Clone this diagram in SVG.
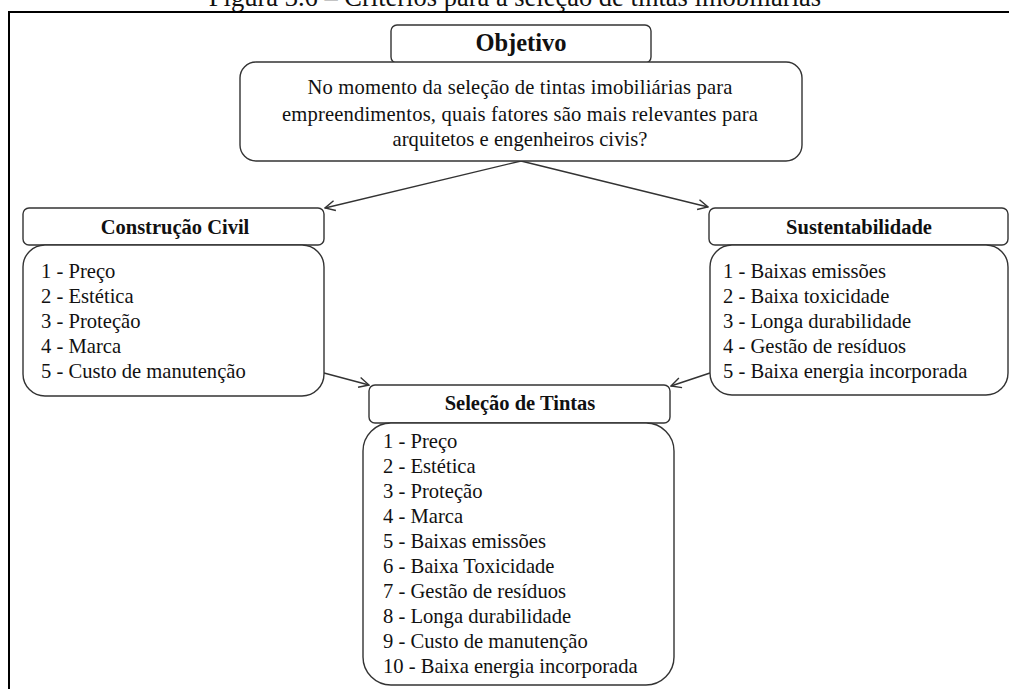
<svg xmlns="http://www.w3.org/2000/svg" width="1009" height="689" viewBox="0 0 1009 689">
<defs>
<style>
.box{fill:#fff;stroke:#333;stroke-width:1.4}
.t{font-family:"Liberation Serif","Times New Roman",serif;font-size:20.6px;fill:#111}
.h{font-family:"Liberation Serif","Times New Roman",serif;font-size:20.5px;font-weight:bold;fill:#111;text-anchor:middle}
.c{text-anchor:middle}
.conn{fill:none;stroke:#333;stroke-width:1.4}
</style>
<marker id="arr" viewBox="0 0 12 12" refX="11" refY="6" markerWidth="12" markerHeight="12" markerUnits="userSpaceOnUse" orient="auto">
<path d="M1,1 L11,6 L1,11" fill="none" stroke="#333" stroke-width="1.4"/>
</marker>
</defs>
<rect width="1009" height="689" fill="#fff"/>
<text class="t c" x="515" y="6" style="font-size:26.5px">Figura 3.6 – Critérios para a seleção de tintas imobiliárias</text>
<path d="M9,689 V12 H1009" fill="none" stroke="#000" stroke-width="2"/>

<g id="connectors">
<line class="conn" x1="521" y1="161" x2="325" y2="208" marker-end="url(#arr)"/>
<line class="conn" x1="521" y1="161" x2="708" y2="207" marker-end="url(#arr)"/>
<line class="conn" x1="324" y1="373" x2="369" y2="385" marker-end="url(#arr)"/>
<line class="conn" x1="710" y1="373" x2="671" y2="386" marker-end="url(#arr)"/>
</g>

<g id="objetivo">
<rect class="box" x="391" y="25" width="260" height="38" rx="6"/>
<text class="h" x="521" y="51" style="font-size:24.5px">Objetivo</text>
</g>

<g id="pergunta">
<rect class="box" x="240" y="62" width="562" height="99" rx="16"/>
<text class="t c" x="520" y="94" textLength="425" lengthAdjust="spacing">No momento  da seleção  de tintas imobiliárias  para</text>
<text class="t c" x="520" y="121" textLength="476" lengthAdjust="spacing">empreendimentos,  quais fatores são mais relevantes para</text>
<text class="t c" x="520" y="146" textLength="255" lengthAdjust="spacing">arquitetos e engenheiros  civis?</text>
</g>

<g id="construcao">
<rect class="box" x="23" y="208" width="301" height="37" rx="6"/>
<text class="h" x="175" y="234">Construção  Civil</text>
<rect class="box" x="23" y="245" width="301" height="151" rx="22"/>
<text class="t" x="41" y="278">1 - Preço</text>
<text class="t" x="41" y="303">2 - Estética</text>
<text class="t" x="41" y="328">3 - Proteção</text>
<text class="t" x="41" y="353">4 - Marca</text>
<text class="t" x="41" y="378">5 - Custo de manutenção</text>
</g>

<g id="sustentabilidade">
<rect class="box" x="709" y="208" width="299" height="37" rx="6"/>
<text class="h" x="859" y="234">Sustentabilidade</text>
<rect class="box" x="710" y="245" width="298" height="150" rx="22"/>
<text class="t" x="723" y="278">1 - Baixas  emissões</text>
<text class="t" x="723" y="303">2 - Baixa toxicidade</text>
<text class="t" x="723" y="328">3 - Longa durabilidade</text>
<text class="t" x="723" y="353">4 - Gestão de resíduos</text>
<text class="t" x="723" y="378">5 - Baixa energia  incorporada</text>
</g>

<g id="selecao">
<rect class="box" x="369" y="385" width="301" height="38" rx="6"/>
<text class="h" x="520" y="410">Seleção  de Tintas</text>
<rect class="box" x="363" y="423" width="311" height="262" rx="28"/>
<text class="t" x="383" y="448">1 - Preço</text>
<text class="t" x="383" y="473">2 - Estética</text>
<text class="t" x="383" y="498">3 - Proteção</text>
<text class="t" x="383" y="523">4 - Marca</text>
<text class="t" x="383" y="548">5 - Baixas  emissões</text>
<text class="t" x="383" y="573">6 - Baixa Toxicidade</text>
<text class="t" x="383" y="598">7 - Gestão de resíduos</text>
<text class="t" x="383" y="623">8 - Longa durabilidade</text>
<text class="t" x="383" y="648">9 - Custo de manutenção</text>
<text class="t" x="383" y="673">10 - Baixa energia  incorporada</text>
</g>
</svg>
